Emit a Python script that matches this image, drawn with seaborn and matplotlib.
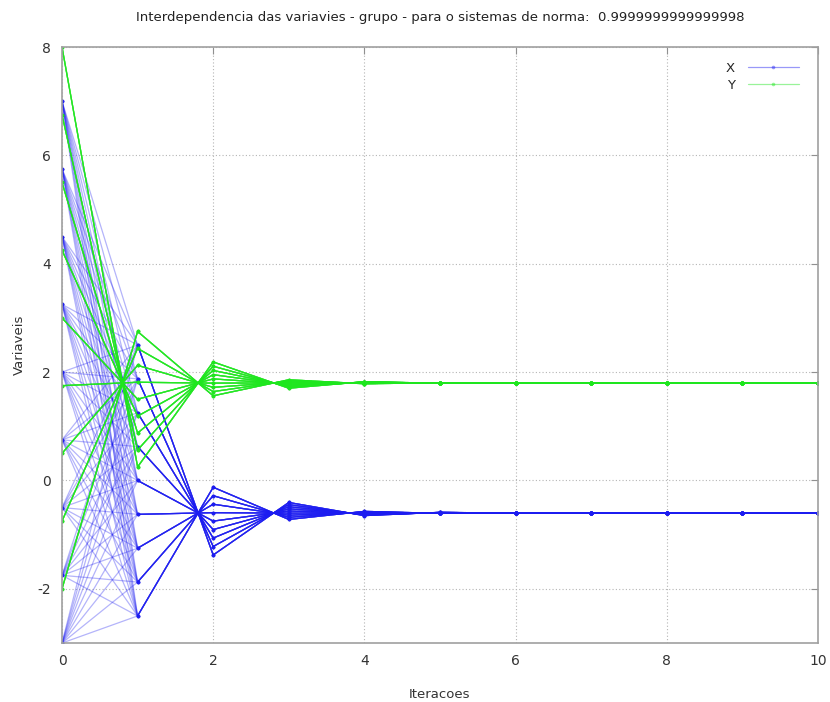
import matplotlib
matplotlib.use("Agg")
import matplotlib.pyplot as plt
from matplotlib.lines import Line2D
import pandas as pd
import seaborn as sns

# ---- data ----
ITERATIONS = list(range(11))
X_START = [-3.0, -1.75, -0.5, 0.75, 2.0, 3.25, 4.5, 5.75, 7.0]
Y_START = [-2.0, -0.75, 0.5, 1.75, 3.0, 4.25, 5.5, 6.75, 8.0]

# iterations 1..10, one row per starting Y value (rows follow Y_START)
X_PATH = [
    [-2.5,   -0.125, -0.719, -0.570, -0.607, -0.598, -0.600, -0.600, -0.600, -0.600],
    [-1.875, -0.281, -0.680, -0.580, -0.605, -0.599, -0.600, -0.600, -0.600, -0.600],
    [-1.25,  -0.438, -0.641, -0.590, -0.603, -0.599, -0.600, -0.600, -0.600, -0.600],
    [-0.625, -0.594, -0.602, -0.600, -0.600, -0.600, -0.600, -0.600, -0.600, -0.600],
    [0.0,    -0.750, -0.563, -0.609, -0.598, -0.601, -0.600, -0.600, -0.600, -0.600],
    [0.625,  -0.906, -0.523, -0.619, -0.595, -0.601, -0.600, -0.600, -0.600, -0.600],
    [1.25,   -1.063, -0.484, -0.629, -0.593, -0.602, -0.600, -0.600, -0.600, -0.600],
    [1.875,  -1.219, -0.445, -0.639, -0.590, -0.602, -0.600, -0.600, -0.600, -0.600],
    [2.5,    -1.375, -0.406, -0.648, -0.588, -0.603, -0.600, -0.600, -0.600, -0.600],
]
Y_PATH = [
    [2.75,  1.563, 1.859, 1.785, 1.804, 1.799, 1.800, 1.800, 1.800, 1.800],
    [2.438, 1.641, 1.840, 1.790, 1.802, 1.799, 1.800, 1.800, 1.800, 1.800],
    [2.125, 1.719, 1.820, 1.795, 1.801, 1.800, 1.800, 1.800, 1.800, 1.800],
    [1.813, 1.797, 1.801, 1.800, 1.800, 1.800, 1.800, 1.800, 1.800, 1.800],
    [1.5,   1.875, 1.781, 1.805, 1.799, 1.800, 1.800, 1.800, 1.800, 1.800],
    [1.188, 1.953, 1.762, 1.810, 1.798, 1.801, 1.800, 1.800, 1.800, 1.800],
    [0.875, 2.031, 1.742, 1.814, 1.796, 1.801, 1.800, 1.800, 1.800, 1.800],
    [0.563, 2.109, 1.723, 1.819, 1.795, 1.801, 1.800, 1.800, 1.800, 1.800],
    [0.25,  2.188, 1.703, 1.824, 1.794, 1.802, 1.800, 1.800, 1.800, 1.800],
]
SERIES = ["X", "Y"]
TITLE = "Interdependencia das variavies - grupo - para o sistemas de norma:  0.9999999999999998"
X_TICKS = [0, 2, 4, 6, 8, 10]
Y_TICKS = [-2, 0, 2, 4, 6, 8]

# ---- long-form table ----
rows = []
traj = 0
for i, y0 in enumerate(Y_START):
    for j, x0 in enumerate(X_START):
        xs = [x0] + X_PATH[i]
        ys = [y0] + Y_PATH[i]
        for k, (xv, yv) in enumerate(zip(xs, ys)):
            rows.append({"iter": ITERATIONS[k], "value": xv, "var": "X", "traj": traj})
            rows.append({"iter": ITERATIONS[k], "value": yv, "var": "Y", "traj": traj})
        traj += 1
df = pd.DataFrame(rows)

sns.set_style("white")
plt.rcParams["font.family"] = ["DejaVu Sans"]
plt.rcParams["axes.unicode_minus"] = False

BLUE = "#1c1cf0"
GREEN = "#1ee61e"
palette = {"X": BLUE, "Y": GREEN}

fig = plt.figure(figsize=(8.3, 7.02), dpi=100)
ax = fig.add_axes([0.0747, 0.084, 0.9855 - 0.0747, 0.933 - 0.084])

sns.lineplot(data=df, x="iter", y="value", hue="var", hue_order=SERIES,
             units="traj", estimator=None, sort=False, palette=palette,
             marker="o", markersize=2.6, markeredgewidth=0, linewidth=0.9,
             alpha=0.33, legend=False, ax=ax)

ax.set_xlim(0, 10)
ax.set_ylim(-3, 8)
ax.set_xticks(X_TICKS)
ax.set_yticks(Y_TICKS)
ax.grid(True, linestyle=(0, (1, 2)), color="#b5b5b5", linewidth=0.8)
ax.set_axisbelow(True)
for sp in ax.spines.values():
    sp.set_color("#a0a0a0")
    sp.set_linewidth(1.2)
ax.tick_params(direction="in", length=5, color="#909090", top=True, right=True,
               labelsize=10, labelcolor="#333333", pad=8)
ax.set_xlabel("Iteracoes", fontsize=9.5, color="#333333", labelpad=14)
ax.set_ylabel("Variaveis", fontsize=9.5, color="#333333", labelpad=8)
fig.suptitle(TITLE, x=0.53, y=0.985, fontsize=9.5, color="#222222")

handles = [Line2D([], [], color=palette[s], alpha=0.45, lw=0.9, marker="o",
                  markersize=2.6, markeredgewidth=0) for s in SERIES]
ax.legend(handles, SERIES, loc="upper right", bbox_to_anchor=(0.99, 0.995),
          frameon=False, markerfirst=False, handlelength=3.8, fontsize=9.5,
          labelspacing=0.3, handletextpad=1.0)

fig.savefig("out.png", dpi=100)
